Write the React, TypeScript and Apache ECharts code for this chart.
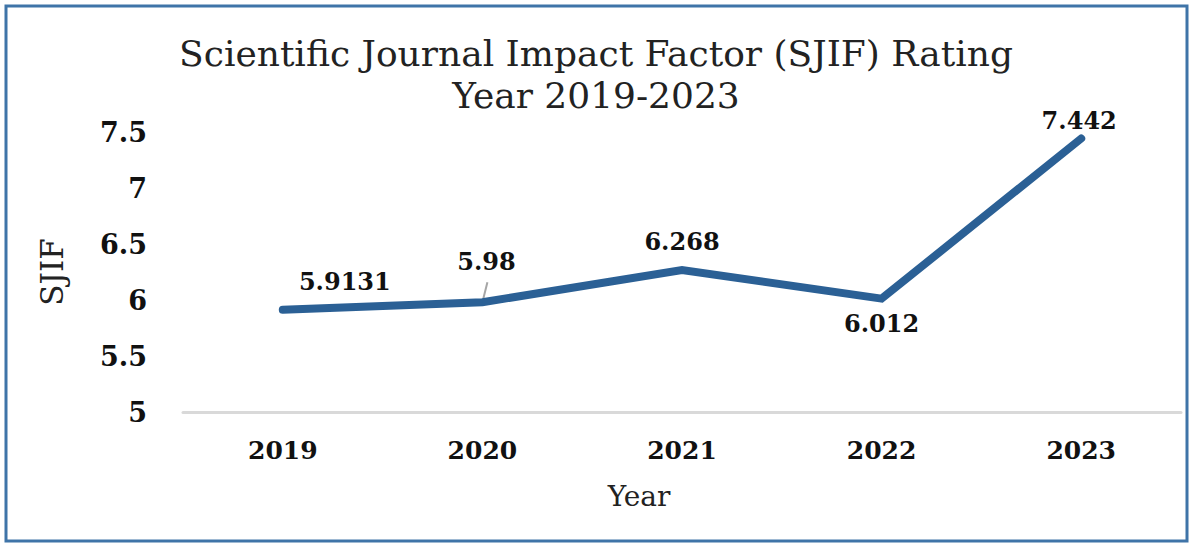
import React, { useEffect, useRef } from "react";
import * as echarts from "echarts";

const years = ["2019", "2020", "2021", "2022", "2023"];
const sjif = [5.9131, 5.98, 6.268, 6.012, 7.442];
const labelTexts = ["5.9131", "5.98", "6.268", "6.012", "7.442"];
const labelPos = ["top", "top", "top", "bottom", "top"];
const labelOffset = [[62, -4], [4, -16], [0, -4], [0, 0], [-2, 7]];

const FONT = "'DejaVu Serif', 'Liberation Serif', serif";

export default function App() {
  const ref = useRef<HTMLDivElement>(null);
  useEffect(() => {
    if (!ref.current) return;
    const chart = echarts.init(ref.current, null, { renderer: "svg" });
    chart.setOption({
      animation: false,
      backgroundColor: "#ffffff",
      title: {
        text: "Scientific Journal Impact Factor (SJIF) Rating\nYear 2019-2023",
        left: "center",
        top: 27,
        textStyle: {
          fontFamily: FONT,
          fontWeight: "normal",
          fontSize: 36,
          lineHeight: 42,
          color: "#222",
        },
      },
      grid: { left: 183, right: 11, top: 132, bottom: 133, containLabel: false },
      xAxis: {
        type: "category",
        data: years,
        boundaryGap: true,
        name: "Year",
        nameLocation: "middle",
        nameGap: 70,
        nameTextStyle: {
          fontFamily: FONT,
          fontSize: 28,
          color: "#222",
          padding: [0, 86, 0, 0],
        },
        axisLine: { show: true, lineStyle: { color: "#d9d9d9", width: 3 } },
        axisTick: { show: false },
        axisLabel: {
          fontFamily: FONT,
          fontWeight: "bold",
          fontSize: 25,
          color: "#111",
          margin: 26,
        },
      },
      yAxis: {
        type: "value",
        min: 5,
        max: 7.5,
        interval: 0.5,
        name: "SJIF",
        nameLocation: "middle",
        nameGap: 116,
        nameRotate: 90,
        nameTextStyle: { fontFamily: FONT, fontSize: 31, color: "#222" },
        axisLine: { show: false },
        axisTick: { show: false },
        splitLine: { show: false },
        axisLabel: {
          fontFamily: FONT,
          fontWeight: "bold",
          fontSize: 27,
          color: "#111",
          margin: 36,
          formatter: (v: number) => String(v),
        },
      },
      series: [
        {
          type: "line",
          data: sjif.map((v, i) => ({
            value: v,
            label: {
              show: true,
              position: labelPos[i],
              offset: labelOffset[i],
              formatter: labelTexts[i],
            },
          })),
          symbol: "circle",
          symbolSize: 1,
          showSymbol: true,
          itemStyle: { color: "#2B6095" },
          lineStyle: { color: "#2B6095", width: 8, cap: "round", join: "miter" },
          label: {
            show: true,
            distance: 12,
            fontFamily: FONT,
            fontWeight: "bold",
            fontSize: 24,
            color: "#111",
          },
          z: 3,
        },
      ],
    });
    const p = chart.convertToPixel({ gridIndex: 0 }, [1, sjif[1]]) as number[];
    chart.setOption({
      graphic: [
        {
          type: "rect",
          shape: { x: 6, y: 6, width: 1181, height: 535 },
          style: { fill: "none", stroke: "#3F74A8", lineWidth: 3 },
          silent: true,
        },
        {
          type: "line",
          shape: { x1: p[0] + 1, y1: p[1] - 4, x2: p[0] + 5, y2: p[1] - 20 },
          style: { stroke: "#a6a6a6", lineWidth: 2 },
          z: 1,
          silent: true,
        },
      ],
    });
    return () => chart.dispose();
  }, []);
  return (
    <div
      ref={ref}
      style={{ position: "absolute", left: 0, top: 0, width: 1192, height: 545 }}
    />
  );
}
